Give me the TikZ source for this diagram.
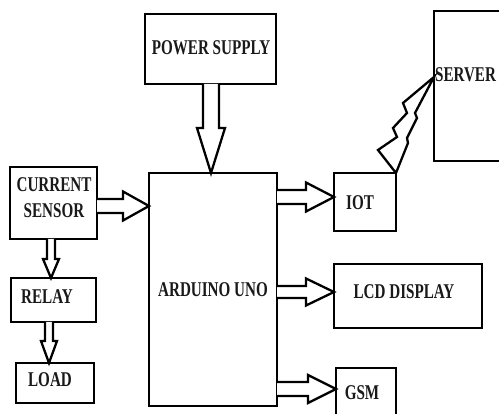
\documentclass[tikz,border=0pt]{standalone}
\usepackage{fontspec}
\newfontfamily\lblfont[FakeStretch=0.72]{Liberation Serif}
\usetikzlibrary{calc}
\tikzset{
  box/.style={draw, line width=2.6pt, inner sep=0pt, outer sep=0pt},
  lbl/.style={inner sep=0pt, align=center, font={\lblfont\bfseries\fontsize{21}{26}\selectfont}, text=black!90},
  blk/.style={draw, line width=2.3pt, fill=white, line join=miter},
  bolt/.style={draw, line width=2.3pt, line join=miter},
}
% horizontal hollow block arrow: start, tip, shaft half, head half, head length
\newcommand\harr[5]{%
  \draw[blk] let \p1=(#1), \p2=(#2) in
    (\x1,\y1+#3) -- (\x2-#5,\y1+#3) -- (\x2-#5,\y1+#4) -- (\x2,\y1)
    -- (\x2-#5,\y1-#4) -- (\x2-#5,\y1-#3) -- (\x1,\y1-#3);}
% vertical (downward) hollow block arrow
\newcommand\varr[5]{%
  \draw[blk] let \p1=(#1), \p2=(#2) in
    (\x1-#3,\y1) -- (\x1-#3,\y2+#5) -- (\x1-#4,\y2+#5) -- (\x1,\y2)
    -- (\x1+#4,\y2+#5) -- (\x1+#3,\y2+#5) -- (\x1+#3,\y1);}
\begin{document}
\begin{tikzpicture}[x=1pt, y=-1pt]
  \useasboundingbox (0,0) rectangle (499,414);
  \clip (0,0) rectangle (499,414);
  \fill[white] (0,0) rectangle (499,414);

  % boxes
  \node[box, minimum width=131pt, minimum height=70pt]  (ps)    at (210.5,49)  {};
  \node[box, minimum width=128pt, minimum height=233pt] (ard)   at (213,289.5) {};
  \node[box, minimum width=81pt,  minimum height=150pt] (srv)   at (474.5,86)  {};
  \node[box, minimum width=62pt,  minimum height=58pt]  (iot)   at (365,202)   {};
  \node[box, minimum width=148pt, minimum height=64pt]  (lcd)   at (408,296)   {};
  \node[box, minimum width=60pt,  minimum height=57pt]  (gsm)   at (366,396.5) {};
  \node[box, minimum width=87pt,  minimum height=72pt]  (cs)    at (53.5,203)  {};
  \node[box, minimum width=85pt,  minimum height=44pt]  (relay) at (53.5,300)  {};
  \node[box, minimum width=78pt,  minimum height=40pt]  (load)  at (55,383)    {};

  % labels
  \node[lbl] (pst)    at (211,48)    {POWER SUPPLY};
  \node[lbl] (ardt)   at (213,290)   {ARDUINO UNO};
  \node[lbl, anchor=west] (srvt) at (435,75) {SERVER};
  \node[lbl] (iott)   at (360,203)   {IOT};
  \node[lbl] (lcdt)   at (404,292)   {LCD DISPLAY};
  \node[lbl] (gsmt)   at (362,393)   {GSM};
  \node[lbl] (cst)    at (54,197.5)  {CURRENT\\SENSOR};
  \node[lbl] (relayt) at (47,297)    {RELAY};
  \node[lbl] (loadt)  at (50,380)    {LOAD};

  % block arrows
  \varr{$(ps.south)+(0.5,0)$}{$(ard.north-|ps.south)+(0.5,0)$}{8pt}{14pt}{45pt}
  \harr{$(cs.east)+(0,3)$}{$(ard.west|-cs.east)+(0,3)$}{7pt}{14.5pt}{26pt}
  \harr{$(ard.east|-iot.west)+(0,-5)$}{$(iot.west)+(0,-5)$}{7pt}{14.5pt}{28pt}
  \harr{$(ard.east|-lcd.west)+(0,-4)$}{$(lcd.west)+(0,-4)$}{6pt}{13.5pt}{28pt}
  \harr{$(ard.east|-gsm.west)+(0,-7.5)$}{$(gsm.west)+(0,-7.5)$}{7pt}{14pt}{28pt}
  \varr{$(cs.south)+(-2.5,0)$}{$(relay.north)+(-2.5,0)$}{4pt}{8pt}{19pt}
  \varr{$(relay.south)+(-4.5,0)$}{$(load.north)+(-6,0)$}{4pt}{8pt}{22pt}

  % wireless link IOT -> SERVER
  \coordinate (srvpt) at ($(srv.west)+(0,-9)$);
  \draw[bolt] (iot.north east) -- (378,150) -- (397,137) -- (393,128)
     -- (407,113) -- (403,103) -- (srvpt)
     -- (415,113) -- (417,118) -- (407,138) -- (408,143) -- (iot.north east);
\end{tikzpicture}
\end{document}
